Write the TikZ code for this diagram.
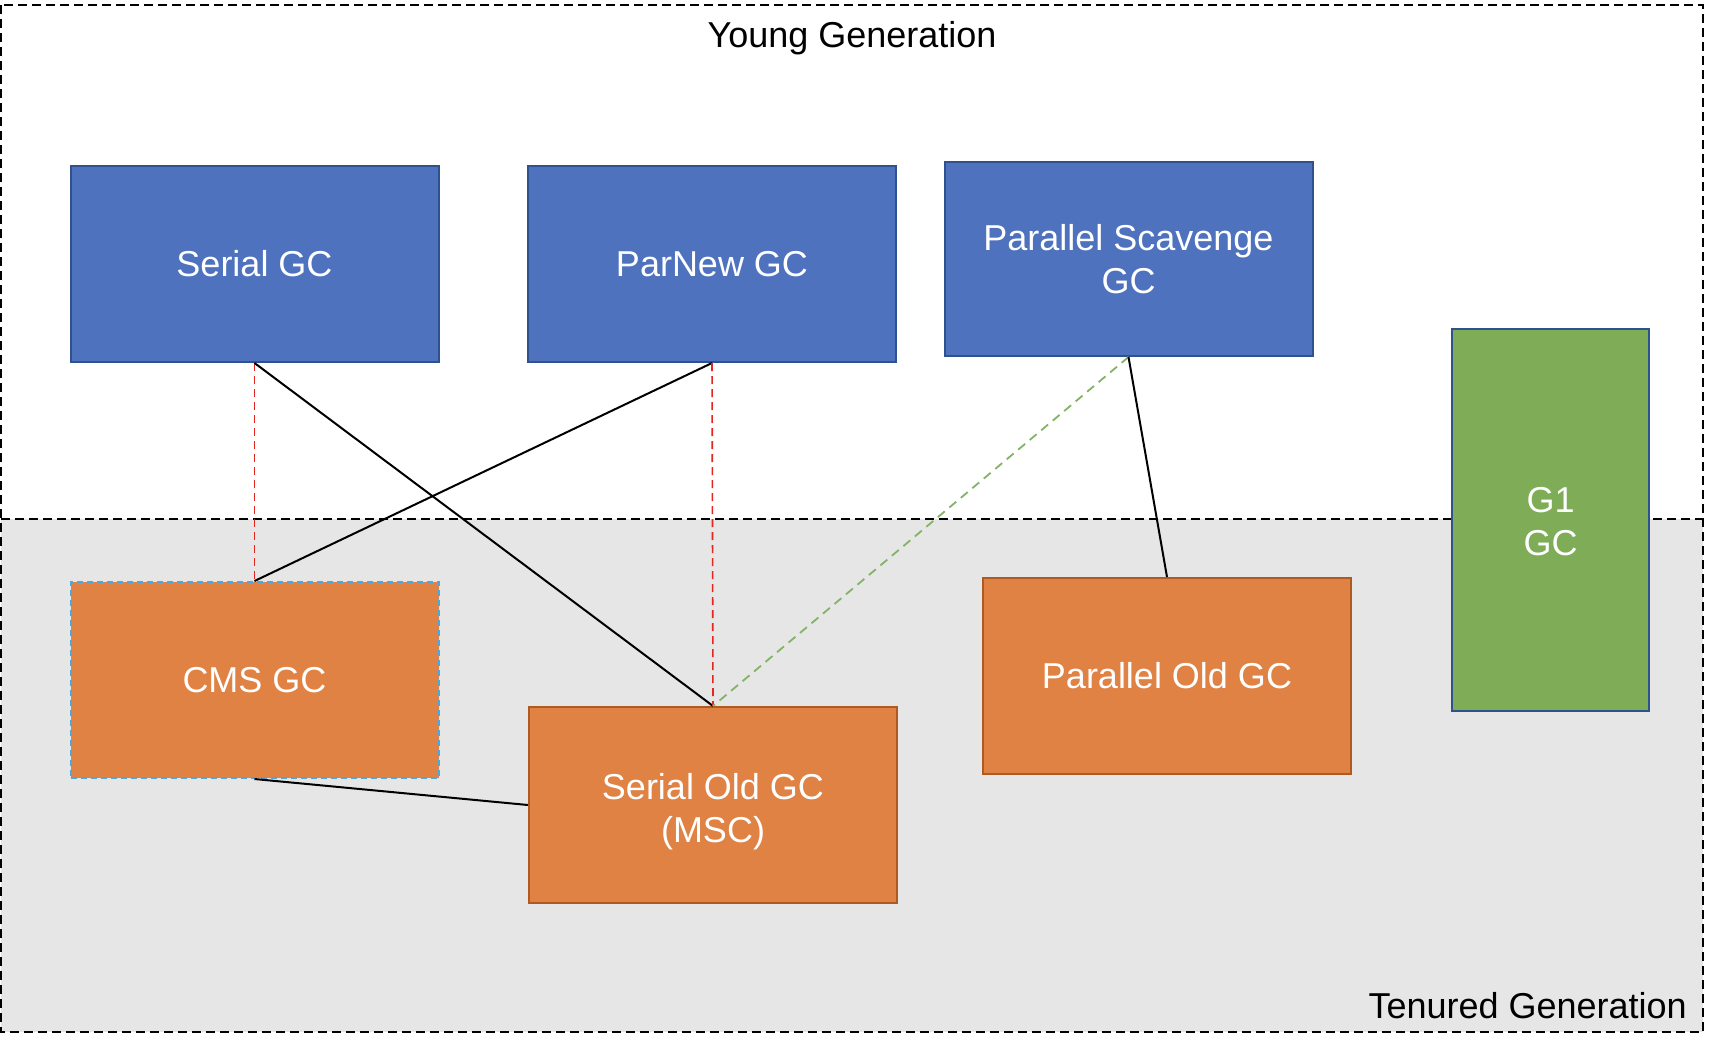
\documentclass[tikz,border=0pt]{standalone}
\usepackage{fontspec}
\setmainfont{Liberation Sans}
\definecolor{blueF}{HTML}{4E72BE}
\definecolor{blueD}{HTML}{2F528F}
\definecolor{orangeF}{HTML}{DF8244}
\definecolor{orangeD}{HTML}{AE5A21}
\definecolor{greenF}{HTML}{7FAC56}
\definecolor{cmsB}{HTML}{4BA8E0}
\definecolor{grayBG}{HTML}{E6E6E6}
\definecolor{redL}{HTML}{E3261E}
\definecolor{greenL}{HTML}{82B366}
\begin{document}
\begin{tikzpicture}[x=1pt,y=-1pt,
  region/.style={draw=black, line width=2pt, dash pattern=on 9pt off 5pt},
  gcbox/.style={line width=2pt, text=white, inner sep=0pt, minimum width=368pt, minimum height=196pt, align=center, font=\fontsize{36}{43}\selectfont},
  young/.style={gcbox, fill=blueF, draw=blueD},
  old/.style={gcbox, fill=orangeF, draw=orangeD},
  g1/.style={gcbox, fill=greenF, draw=blueD, minimum width=197pt, minimum height=382pt},
  cms/.style={gcbox, fill=orangeF, draw=cmsB, dash pattern=on 6pt off 4pt},
  lbl/.style={text=black, inner sep=0pt, font=\fontsize{36}{43}\selectfont},
  boxtext/.style={text=white, inner sep=0pt, align=center, font=\fontsize{36}{43}\selectfont},
  solidlink/.style={draw=black, line width=2pt},
  redlink/.style={draw=redL, line width=1.6pt, dash pattern=on 8pt off 5pt},
  greenlink/.style={draw=greenL, line width=1.8pt, dash pattern=on 9pt off 6pt}
]
\useasboundingbox (0,0) rectangle (1712,1050);
% regions
\fill[grayBG] (1,519) rectangle (1703,1032);
\draw[region] (1,5) rectangle (1703,1032);
\coordinate (sepL) at (1,519);
\coordinate (sepR) at (1703,519);
\draw[region] (sepL) -- (sepR);
\node[lbl, anchor=base] (younglbl) at (852,47) {Young Generation};
\node[lbl, anchor=base east] (tenlbl) at (1687,1018) {Tenured Generation};
% boxes
\node[young] (serial) at (254.5,264) {Serial GC};
\node[young] (parnew) at (712,264) {ParNew GC};
\node[young, minimum height=194pt] (pscav) at (1128.5,259) {Parallel Scavenge\\GC};
\node[g1] (g1) at (1550.5,520) {};
\node[boxtext] (g1txt) at (1550.5,522) {G1\\GC};
\node[cms] (cms) at (254.5,680) {CMS GC};
\node[old] (serialold) at (713,805) {};
\node[boxtext] (serialoldtxt) at (713,812) {Serial Old GC\\(MSC)};
\node[old] (parold) at (1167,676) {Parallel Old GC};
% connectors
\draw[redlink] (serial.south) -- (cms.north);
\draw[solidlink] (serial.south) -- (serialold.north);
\draw[solidlink] (parnew.south) -- (cms.north);
\draw[redlink] (parnew.south) -- (serialold.north);
\draw[greenlink] (pscav.south) -- (serialold.north);
\draw[solidlink] (pscav.south) -- (parold.north);
\draw[solidlink] (cms.south) -- (serialold.west);
\end{tikzpicture}
\end{document}
